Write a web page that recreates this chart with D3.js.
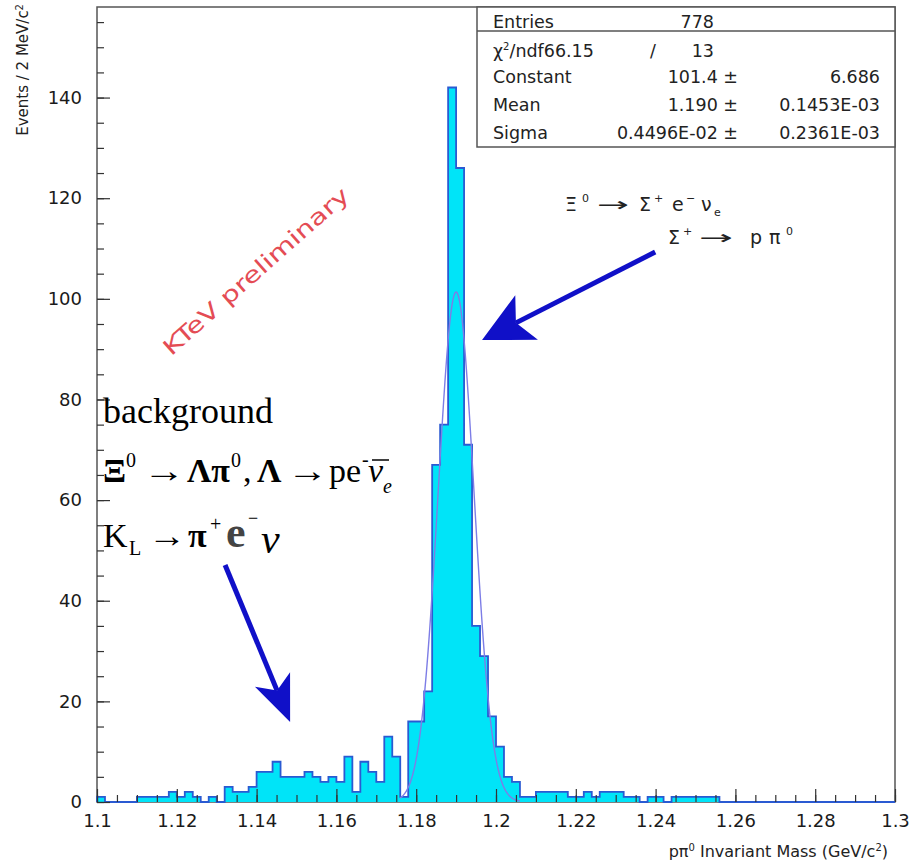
<!DOCTYPE html>
<html>
<head>
<meta charset="utf-8">
<script src="https://cdn.jsdelivr.net/npm/d3@7"></script>
<style>
  body { margin: 0; background: #fff; }
  svg { display: block; }
</style>
</head>
<body>
<svg></svg>
<script>
// histogram: 100 bins of 2 MeV from 1.100 to 1.300 GeV
const binStart = 1.1;
const binWidth = 0.002;
const counts = [
  1, 0, 0, 0, 0, 1, 1, 1, 1, 2,
  1, 2, 1, 0, 1, 0, 3, 2, 2, 3,
  6, 6, 8, 5, 5, 5, 6, 5, 4, 5,
  4, 9, 2, 8, 6, 4, 13, 9, 1, 16,
  16, 22, 67, 75, 142, 126, 71, 35, 29, 17,
  11, 5, 4, 1, 1, 2, 2, 2, 2, 1,
  1, 2, 1, 2, 2, 2, 1, 1, 0, 1,
  1, 0, 1, 1, 1, 1, 1, 1, 0, 0,
  0, 0, 0, 0, 0, 0, 0, 0, 0, 0,
  0, 0, 0, 0, 0, 0, 0, 0, 0, 0
];

// gaussian fit (from the stats box)
const fitConstant = 101.4;
const fitMean = 1.190;
const fitSigma = 0.4496e-2;
const fitRange = [1.176, 1.206];

const xTickValues = [1.1, 1.12, 1.14, 1.16, 1.18, 1.2, 1.22, 1.24, 1.26, 1.28, 1.3];
const xTickLabels = ["1.1", "1.12", "1.14", "1.16", "1.18", "1.2", "1.22", "1.24", "1.26", "1.28", "1.3"];
const yTickValues = [0, 20, 40, 60, 80, 100, 120, 140];

const statsLabels = ["Entries", "χ²/ndf", "Constant", "Mean", "Sigma"];
const statsMid = ["778", "13", "101.4 ±", "1.190 ±", "0.4496E-02 ±"];
const statsRight = ["", "", "6.686", "0.1453E-03", "0.2361E-03"];

const svg = d3.select('svg')
    .attr('width', 915)
    .attr('height', 863);

const x = d3.scaleLinear().domain([1.1, 1.3]).range([97, 895]);
const y = d3.scaleLinear().domain([0, 158]).range([802, 7]);

const sans = 'DejaVu Sans, sans-serif';
const serif = 'Liberation Serif, Times New Roman, serif';

// frame
svg.append('rect')
    .attr('x', x(1.1)).attr('y', y(158))
    .attr('width', x(1.3) - x(1.1)).attr('height', y(0) - y(158))
    .attr('fill', 'none').attr('stroke', '#555').attr('stroke-width', 1.5);

// histogram
const pts = [[binStart, 0]];
counts.forEach((c, i) => pts.push([binStart + i * binWidth, c]));
pts.push([binStart + counts.length * binWidth, counts[counts.length - 1]]);
pts.push([binStart + counts.length * binWidth, 0]);

svg.append('path')
    .attr('d', d3.area().x(d => x(d[0])).y0(y(0)).y1(d => y(d[1])).curve(d3.curveStepAfter)(pts))
    .attr('fill', '#00e4f8');

svg.append('path')
    .attr('d', d3.line().x(d => x(d[0])).y(d => y(d[1])).curve(d3.curveStepAfter)(pts))
    .attr('fill', 'none').attr('stroke', '#2a5ad2').attr('stroke-width', 1.8);

// fit curve
const fitPts = d3.range(fitRange[0], fitRange[1] + 1e-9, 0.0002)
    .map(v => [v, fitConstant * Math.exp(-0.5 * Math.pow((v - fitMean) / fitSigma, 2))]);
svg.append('path')
    .attr('d', d3.line().x(d => x(d[0])).y(d => y(d[1])).curve(d3.curveBasis)(fitPts))
    .attr('fill', 'none').attr('stroke', '#7d7de6').attr('stroke-width', 1.4);

// axes, ticks pointing inside
const gx = svg.append('g')
    .attr('transform', `translate(0,${y(0)})`)
    .call(d3.axisBottom(x).tickValues(xTickValues)
        .tickFormat((d, i) => xTickLabels[i])
        .tickSizeInner(-13).tickSizeOuter(0).tickPadding(12));
gx.select('.domain').remove();

svg.append('g')
    .attr('transform', `translate(0,${y(0)})`)
    .call(d3.axisBottom(x).tickValues(d3.range(1.1, 1.3001, 0.005))
        .tickFormat('').tickSizeInner(-7).tickSizeOuter(0))
    .select('.domain').remove();

const gy = svg.append('g')
    .attr('transform', `translate(${x(1.1)},0)`)
    .call(d3.axisLeft(y).tickValues(yTickValues)
        .tickSizeInner(-13).tickSizeOuter(0).tickPadding(15));
gy.select('.domain').remove();

svg.append('g')
    .attr('transform', `translate(${x(1.1)},0)`)
    .call(d3.axisLeft(y).tickValues(d3.range(0, 158, 5))
        .tickFormat('').tickSizeInner(-7).tickSizeOuter(0))
    .select('.domain').remove();

svg.selectAll('.tick line').attr('stroke', '#333').attr('stroke-width', 1.2);
svg.selectAll('.tick text')
    .attr('font-family', sans).attr('font-size', 18).attr('fill', '#1a1a1a');

// axis titles
const yt = svg.append('text')
    .attr('transform', 'translate(28,4) rotate(-90)')
    .attr('text-anchor', 'end')
    .attr('font-family', sans).attr('font-size', 15).attr('fill', '#222')
    .text('Events / 2 MeV/c');
yt.append('tspan').attr('dy', -5).attr('font-size', 10).text('2');

const xt = svg.append('text')
    .attr('x', 888).attr('y', 857)
    .attr('text-anchor', 'end')
    .attr('font-family', sans).attr('font-size', 16).attr('fill', '#222');
xt.append('tspan').text('pπ');
xt.append('tspan').attr('dy', -6).attr('font-size', 10).text('0');
xt.append('tspan').attr('dy', 6).text(' Invariant Mass (GeV/c');
xt.append('tspan').attr('dy', -6).attr('font-size', 10).text('2');
xt.append('tspan').attr('dy', 6).text(')');

// stats box
svg.append('rect')
    .attr('x', 477).attr('y', 7).attr('width', 418).attr('height', 140)
    .attr('fill', '#fff').attr('stroke', '#555').attr('stroke-width', 1.5);
svg.append('line')
    .attr('x1', 477).attr('x2', 895).attr('y1', 31).attr('y2', 31)
    .attr('stroke', '#555').attr('stroke-width', 1.5);

const rowY = [28, 57, 83, 111, 139];
const stats = svg.append('g')
    .attr('font-family', sans).attr('font-size', 17.5).attr('fill', '#222');
statsLabels.forEach((lab, i) => {
    if (i === 1) {
        const t = stats.append('text').attr('x', 493).attr('y', rowY[i]);
        t.append('tspan').text('χ');
        t.append('tspan').attr('dy', -7).attr('font-size', 10).text('2');
        t.append('tspan').attr('dy', 7).text('/ndf66.15');
        stats.append('text').attr('x', 650).attr('y', rowY[i]).text('/');
    } else {
        stats.append('text').attr('x', 493).attr('y', rowY[i]).text(lab);
    }
    stats.append('text').attr('x', statsMid[i].includes('±') ? 738 : 714)
        .attr('y', rowY[i]).attr('text-anchor', 'end').text(statsMid[i]);
    stats.append('text').attr('x', 880).attr('y', rowY[i])
        .attr('text-anchor', 'end').text(statsRight[i]);
});

// KTeV preliminary
svg.append('text')
    .attr('transform', 'translate(261,277) rotate(-41.5)')
    .attr('text-anchor', 'middle')
    .attr('font-family', sans).attr('font-size', 22).attr('fill', '#e44c54')
    .attr('textLength', 240).attr('lengthAdjust', 'spacingAndGlyphs')
    .text('KTeV preliminary');

// small text pieces
function piece(g, txt, px, py, size, extra) {
    const t = g.append('text').attr('x', px).attr('y', py).attr('font-size', size).text(txt);
    if (extra) extra(t, px, py);
    return t;
}
// widen a glyph (long arrows) by scaling it horizontally
const stretch = n => (t, px, py) => {
    const w = t.node().getComputedTextLength();
    t.attr('x', 0).attr('y', 0)
        .attr('transform', `translate(${px},${py}) scale(${n / w},1)`);
};

// decay labels upper right
const dec = svg.append('g').attr('font-family', sans).attr('fill', '#222');
piece(dec, 'Ξ', 565, 211, 19);
piece(dec, '0', 582, 202, 11);
piece(dec, '→', 597, 211, 19, stretch(32));
piece(dec, 'Σ', 639, 211, 19);
piece(dec, '+', 654, 202, 11);
piece(dec, 'e', 672, 211, 19);
piece(dec, '−', 686, 202, 11);
piece(dec, 'ν', 701, 211, 19);
piece(dec, 'e', 714, 216, 11);
piece(dec, 'Σ', 668, 244, 19);
piece(dec, '+', 683, 235, 11);
piece(dec, '→', 699, 244, 19, stretch(34));
piece(dec, 'p', 750, 244, 19);
piece(dec, 'π', 769, 244, 19);
piece(dec, '0', 786, 235, 11);

// background labels
const bg = svg.append('g').attr('font-family', serif).attr('fill', '#000');
const bold = t => t.attr('font-weight', 'bold');
const ital = t => t.attr('font-style', 'italic');
piece(bg, 'background', 103, 423, 36);

piece(bg, 'Ξ', 103, 482, 34, bold);
piece(bg, '0', 126, 467, 20);
piece(bg, '→', 143, 482, 34, stretch(42));
piece(bg, 'Λπ', 187, 482, 34, bold);
piece(bg, '0', 231, 467, 20);
piece(bg, ',', 243, 482, 34);
piece(bg, 'Λ', 257, 482, 34, bold);
piece(bg, '→', 287, 482, 34, stretch(41));
piece(bg, 'pe', 329, 482, 34);
piece(bg, '-', 362, 466, 20);
piece(bg, 'ν', 368, 482, 34, ital);
piece(bg, 'e', 383, 493, 20, ital);
bg.append('line').attr('x1', 372).attr('x2', 389).attr('y1', 460).attr('y2', 460)
    .attr('stroke', '#000').attr('stroke-width', 1.5);

piece(bg, 'K', 103, 547, 34);
piece(bg, 'L', 129, 555, 20);
piece(bg, '→', 148, 547, 34, stretch(38));
piece(bg, 'π', 188, 547, 34, bold);
piece(bg, '+', 210, 531, 20);
piece(bg, 'e', 226, 547, 44, t => t.attr('font-weight', 'bold').attr('fill', '#444'));
piece(bg, '−', 248, 524, 18);
piece(bg, 'ν', 261, 553, 42, ital);

// blue arrows, given in data coordinates
const arrows = [
    {from: [1.2399, 109.3], to: [1.1965, 91.8], head: 50, half: 25},
    {from: [1.1321, 47.1], to: [1.1484, 15.9], head: 46, half: 19}
];
arrows.forEach(a => {
    const ax = x(a.from[0]), ay = y(a.from[1]);
    const bx = x(a.to[0]), by = y(a.to[1]);
    const len = Math.hypot(bx - ax, by - ay);
    const ux = (bx - ax) / len, uy = (by - ay) / len;
    const nx = -uy, ny = ux;
    const backX = bx - a.head * ux, backY = by - a.head * uy;
    const notchX = bx - (a.head - 12) * ux, notchY = by - (a.head - 12) * uy;
    svg.append('line')
        .attr('x1', ax).attr('y1', ay).attr('x2', notchX).attr('y2', notchY)
        .attr('stroke', '#1010c8').attr('stroke-width', 5);
    svg.append('path')
        .attr('d', `M${bx},${by}L${backX + a.half * nx},${backY + a.half * ny}L${notchX},${notchY}L${backX - a.half * nx},${backY - a.half * ny}Z`)
        .attr('fill', '#1010c8');
});
</script>
</body>
</html>
